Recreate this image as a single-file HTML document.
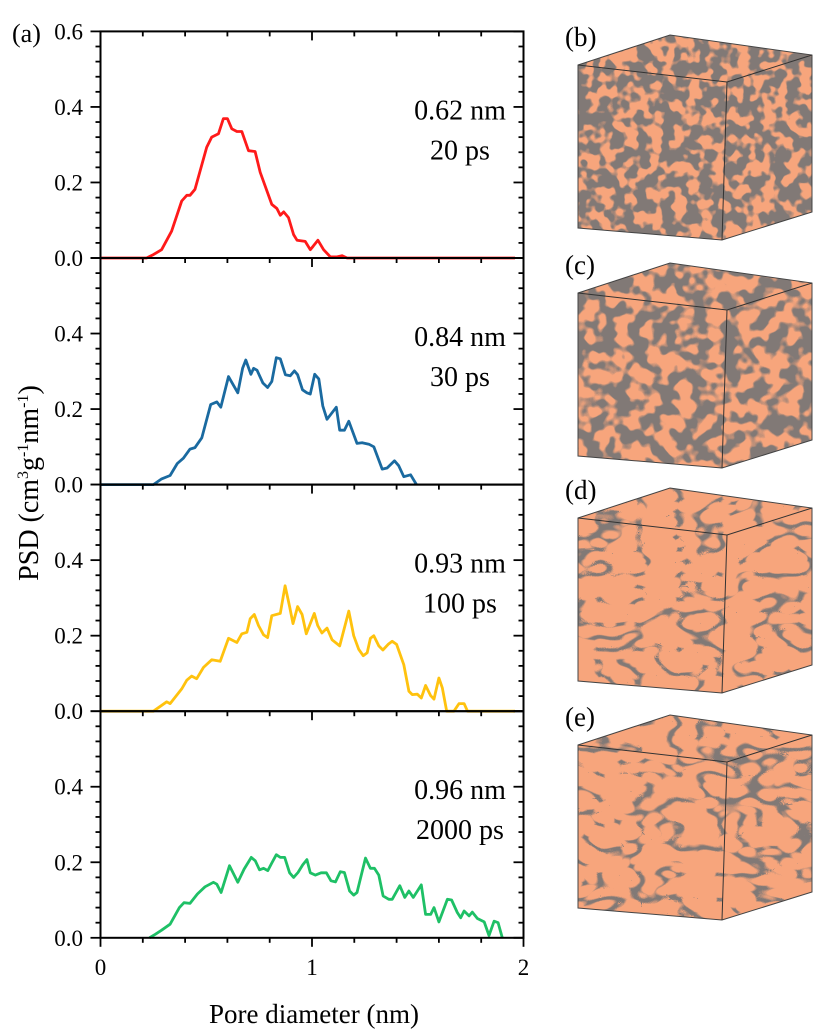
<!DOCTYPE html>
<html><head><meta charset="utf-8"><style>
html,body{margin:0;padding:0;background:#fff;}
svg{display:block;font-family:"Liberation Serif",serif;}
</style></head><body>
<svg id="fig" width="832" height="1032" viewBox="0 0 832 1032">
<defs>
<filter id="blobA" filterUnits="userSpaceOnUse" x="560" y="0" width="272" height="1032"><feTurbulence type="fractalNoise" baseFrequency="0.08" numOctaves="2" seed="3"/><feColorMatrix type="matrix" values="0 0 0 0 0.22 0 0 0 0 0.19 0 0 0 0 0.18 10 0 0 0 -4.3"/></filter>
<filter id="blobB" filterUnits="userSpaceOnUse" x="560" y="0" width="272" height="1032"><feTurbulence type="fractalNoise" baseFrequency="0.065" numOctaves="2" seed="7"/><feColorMatrix type="matrix" values="0 0 0 0 0.22 0 0 0 0 0.19 0 0 0 0 0.18 10 0 0 0 -4.5"/></filter>
<filter id="blobC" filterUnits="userSpaceOnUse" x="560" y="0" width="272" height="1032"><feTurbulence type="turbulence" baseFrequency="0.025 0.04" numOctaves="2" seed="11"/><feColorMatrix type="matrix" values="0 0 0 0 0.22 0 0 0 0 0.19 0 0 0 0 0.18 -12 0 0 0 1.9"/></filter>
</defs>
<g id="chart"></g>
<g id="cubes"></g>
<text x="12" y="42" font-size="26">(a)</text>
<text transform="translate(38,483) rotate(-90)" text-anchor="middle" font-size="28">PSD (cm<tspan font-size="16" dy="-10">3</tspan><tspan dy="10">g</tspan><tspan font-size="16" dy="-10">-1</tspan><tspan dy="10">nm</tspan><tspan font-size="16" dy="-10">-1</tspan><tspan dy="10">)</tspan></text>
<text x="314" y="1023" text-anchor="middle" font-size="27">Pore diameter (nm)</text>
</svg>
<script>
const xTicks = [0, 1, 2];
const yTicksTop = [0, 0.2, 0.4, 0.6];
const yTicksOther = [0, 0.2, 0.4];
const annLine1 = ["0.62 nm", "0.84 nm", "0.93 nm", "0.96 nm"];
const annLine2 = ["20 ps", "30 ps", "100 ps", "2000 ps"];
const colors = ["#ff1a1a", "#1a6aa0", "#ffc20e", "#1ec066"];
const redX = [0,0.218,0.25,0.289,0.336,0.384,0.408,0.423,0.447,0.502,0.526,0.558,0.581,0.600,0.621,0.645,0.668,0.700,0.731,0.755,0.810,0.834,0.850,0.866,0.889,0.913,0.929,0.968,0.992,1.005,1.028,1.055,1.087,1.118,1.142,1.166,1.96];
const redY = [0,0,0.009,0.022,0.071,0.151,0.166,0.166,0.182,0.293,0.320,0.329,0.369,0.369,0.342,0.335,0.335,0.284,0.282,0.227,0.142,0.131,0.113,0.122,0.107,0.062,0.047,0.044,0.022,0.031,0.047,0.022,0.003,0.003,0.006,0,0];
const blueX = [0,0.25,0.289,0.329,0.363,0.392,0.423,0.447,0.479,0.521,0.55,0.569,0.605,0.629,0.649,0.672,0.687,0.711,0.724,0.74,0.768,0.79,0.81,0.831,0.85,0.874,0.897,0.917,0.932,0.955,0.976,0.992,1.013,1.032,1.051,1.071,1.115,1.131,1.153,1.174,1.213,1.237,1.269,1.292,1.332,1.355,1.39,1.41,1.434,1.466,1.494];
const blueY = [0,0,0.015,0.024,0.056,0.07,0.094,0.098,0.124,0.212,0.219,0.205,0.286,0.263,0.243,0.308,0.33,0.292,0.308,0.303,0.269,0.257,0.273,0.336,0.333,0.291,0.288,0.301,0.291,0.251,0.243,0.24,0.292,0.28,0.208,0.173,0.205,0.144,0.144,0.168,0.109,0.111,0.107,0.1,0.041,0.044,0.063,0.05,0.021,0.026,0];
const yelX = [0,0.25,0.313,0.329,0.384,0.408,0.431,0.455,0.487,0.526,0.566,0.605,0.645,0.668,0.692,0.708,0.727,0.747,0.771,0.79,0.81,0.85,0.873,0.894,0.91,0.932,0.953,0.973,1.011,1.027,1.047,1.071,1.095,1.131,1.174,1.197,1.221,1.242,1.261,1.276,1.292,1.316,1.335,1.36,1.379,1.4,1.434,1.458,1.474,1.498,1.517,1.537,1.561,1.577,1.6,1.616,1.637,1.671,1.695,1.719,1.735,1.96];
const yelY = [0,0,0.025,0.02,0.059,0.082,0.093,0.086,0.116,0.136,0.132,0.193,0.182,0.205,0.209,0.245,0.256,0.227,0.202,0.195,0.253,0.259,0.332,0.277,0.232,0.277,0.256,0.205,0.259,0.227,0.207,0.22,0.189,0.173,0.265,0.2,0.164,0.147,0.155,0.193,0.2,0.173,0.162,0.177,0.185,0.177,0.123,0.053,0.044,0.045,0.035,0.068,0.041,0.032,0.088,0.062,0,0,0.02,0.02,0,0];
const grnX = [0.231,0.258,0.289,0.329,0.373,0.395,0.423,0.458,0.494,0.534,0.55,0.57,0.61,0.649,0.679,0.713,0.732,0.752,0.771,0.791,0.81,0.831,0.85,0.871,0.894,0.913,0.934,0.956,0.976,0.992,1.016,1.043,1.068,1.09,1.111,1.134,1.153,1.178,1.197,1.213,1.253,1.276,1.295,1.316,1.336,1.363,1.379,1.415,1.439,1.458,1.479,1.517,1.537,1.561,1.577,1.6,1.64,1.66,1.687,1.703,1.719,1.743,1.758,1.782,1.814,1.837,1.861,1.88,1.9];
const grnY = [0,0.009,0.02,0.036,0.08,0.093,0.091,0.116,0.135,0.147,0.142,0.12,0.191,0.147,0.182,0.213,0.204,0.18,0.184,0.178,0.198,0.22,0.213,0.213,0.172,0.16,0.173,0.193,0.207,0.172,0.166,0.172,0.172,0.151,0.148,0.175,0.173,0.124,0.113,0.12,0.211,0.184,0.184,0.166,0.111,0.102,0.102,0.138,0.107,0.124,0.107,0.14,0.062,0.062,0.08,0.042,0.102,0.1,0.067,0.053,0.071,0.058,0.068,0.051,0.042,0.006,0.044,0.04,0];
const seriesX = [redX, blueX, yelX, grnX];
const seriesY = [redY, blueY, yelY, grnY];
const seriesNames = ["series-20ps", "series-30ps", "series-100ps", "series-2000ps"];

const NS = "http://www.w3.org/2000/svg";
const L = 100.5, R = 523.5, PH = 226.6, BASE0 = 258;
function xs(v){ return L + v * (R - L) / 2; }
function ys(i, v){ return BASE0 + i * PH - v * PH / 0.6; }
function mk(tag, attrs, parent){ const e = document.createElementNS(NS, tag); for (const k in attrs) e.setAttribute(k, attrs[k]); parent.appendChild(e); return e; }
const chart = document.getElementById("chart");

for (let i = 0; i < 4; i++) {
  const g = mk("g", {}, chart);
  
  
  const top = ys(i, 0.6), bot = ys(i, 0);
  const xsArr = seriesX[i], ysArr = seriesY[i];
  let d = "";
  for (let k = 0; k < xsArr.length; k++) d += (k ? "L" : "M") + xs(xsArr[k]).toFixed(1) + " " + ys(i, ysArr[k]).toFixed(1);
  const p = mk("path", {d: d, fill: "none", stroke: colors[i], "stroke-width": 2.8, "stroke-linejoin": "round"}, g);
  
  
  const fr = mk("rect", {x: L, y: top, width: R - L, height: bot - top, fill: "none", stroke: "#000", "stroke-width": 2}, g);
  
  
  for (let m = 0; m <= 15; m++) {
    const v = m * 0.04, y = ys(i, v), major = (m % 5 === 0);
    mk("line", {x1: L - (major ? 10 : 5), x2: L, y1: y, y2: y, stroke: "#000", "stroke-width": 1.8}, g);
    mk("line", {x1: R, x2: R - (major ? 10 : 5), y1: y, y2: y, stroke: "#000", "stroke-width": 1.8}, g);
  }
  const labs = i === 0 ? yTicksTop : yTicksOther;
  labs.forEach(v => {
    const t = mk("text", {x: 83, y: ys(i, v) + 8, "text-anchor": "end", "font-size": 23}, g);
    t.textContent = v.toFixed(1);
    
    
  });
  for (let m = 0; m <= 10; m++) {
    const x = xs(m * 0.2), major = (m % 5 === 0);
    mk("line", {x1: x, x2: x, y1: top, y2: top + (major ? 9 : 5), stroke: "#000", "stroke-width": 1.8}, g);
    if (i === 3) mk("line", {x1: x, x2: x, y1: bot, y2: bot + (major ? 9 : 5), stroke: "#000", "stroke-width": 1.8}, g);
  }
  const a1 = mk("text", {x: 460, y: top + 88, "text-anchor": "middle", "font-size": 28}, g);
  a1.textContent = annLine1[i];
  
  
  const a2 = mk("text", {x: 460, y: top + 128, "text-anchor": "middle", "font-size": 28}, g);
  a2.textContent = annLine2[i];
  
  
}
xTicks.forEach(v => {
  const t = mk("text", {x: xs(v), y: 975, "text-anchor": "middle", "font-size": 23}, chart);
  t.textContent = String(v);
  
  
});

const cubes = document.getElementById("cubes");
const cubeLabels = ["(b)", "(c)", "(d)", "(e)"];
const cubeOff = [0, 228, 453, 680];
const filters = ["blobA", "blobB", "blobC", "blobC"];
for (let i = 0; i < 4; i++) {
  const o = cubeOff[i];
  const g = mk("g", {}, cubes);
  
  
  const pts = `578,${65+o} 670,${35+o} 812,${55+o} 812,${212+o} 722,${240+o} 578,${228+o}`;
  const cid = "clip" + i;
  const cp = mk("clipPath", {id: cid}, g);
  mk("polygon", {points: pts}, cp);
  mk("polygon", {points: pts, fill: "#f7a57c"}, g);
  mk("rect", {x: 570, y: 30 + o, width: 250, height: 215, filter: `url(#${filters[i]})`, "clip-path": `url(#${cid})`}, g);
  mk("polygon", {points: pts, fill: "none", stroke: "#444", "stroke-width": 1}, g);
  mk("polyline", {points: `578,${65+o} 727,${82+o} 812,${55+o}`, fill: "none", stroke: "#333", "stroke-width": 1}, g);
  mk("line", {x1: 727, y1: 82 + o, x2: 722, y2: 240 + o, stroke: "#333", "stroke-width": 1}, g);
  const t = mk("text", {x: 565, y: 46 + o, "font-size": 27}, g);
  t.textContent = cubeLabels[i];
  
  
}
</script>
</body></html>
